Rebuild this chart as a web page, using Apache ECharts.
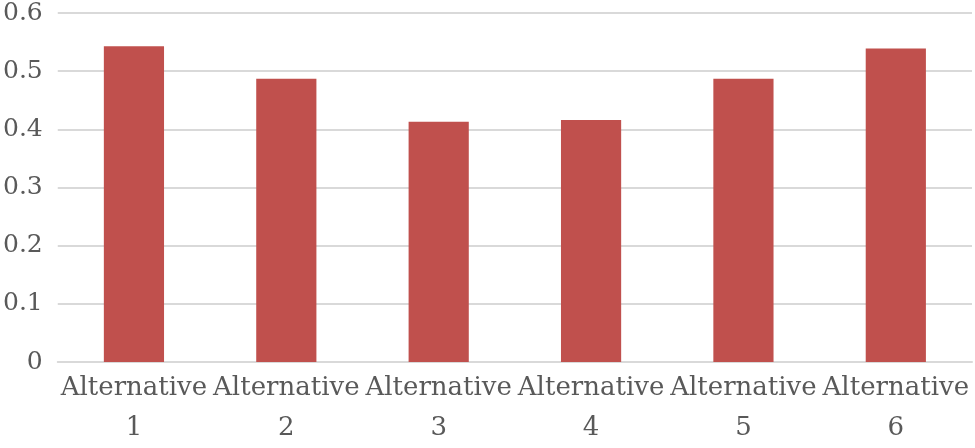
<!DOCTYPE html>
<html>
<head>
<meta charset="utf-8">
<script src="https://cdn.jsdelivr.net/npm/echarts@6/dist/echarts.min.js"></script>
<style>html,body{margin:0;padding:0;background:#fff}#c{width:975px;height:448px}</style>
</head>
<body>
<div id="c"></div>
<script>
const categories = ["Alternative\n1", "Alternative\n2", "Alternative\n3", "Alternative\n4", "Alternative\n5", "Alternative\n6"];
const values = [0.543, 0.487, 0.413, 0.416, 0.487, 0.539];
const yTicks = { min: 0, max: 0.6, interval: 0.1 };

const chart = echarts.init(document.getElementById('c'), null, { renderer: 'canvas' });
chart.setOption({
  animation: false,
  grid: { left: 55, right: 3, top: 13, bottom: 79.5, containLabel: false },
  xAxis: {
    type: 'category',
    data: categories,
    axisLine: { show: true, lineStyle: { color: '#D9D9D9', width: 2 } },
    axisTick: { show: false },
    axisLabel: {
      interval: 0,
      color: '#595959',
      fontFamily: 'DejaVu Serif',
      fontSize: 26,
      lineHeight: 40,
      margin: 6
    }
  },
  yAxis: {
    type: 'value',
    min: yTicks.min,
    max: yTicks.max,
    interval: yTicks.interval,
    axisLine: { show: false },
    axisTick: { show: false },
    splitLine: { lineStyle: { color: '#D9D9D9', width: 2 } },
    axisLabel: {
      color: '#595959',
      fontFamily: 'DejaVu Serif',
      fontSize: 25,
      margin: 15,
      formatter: v => String(Math.round(v * 10) / 10)
    }
  },
  series: [{
    type: 'bar',
    data: values,
    barWidth: '39.5%',
    itemStyle: { color: '#C0504D' }
  }]
});
</script>
</body>
</html>
